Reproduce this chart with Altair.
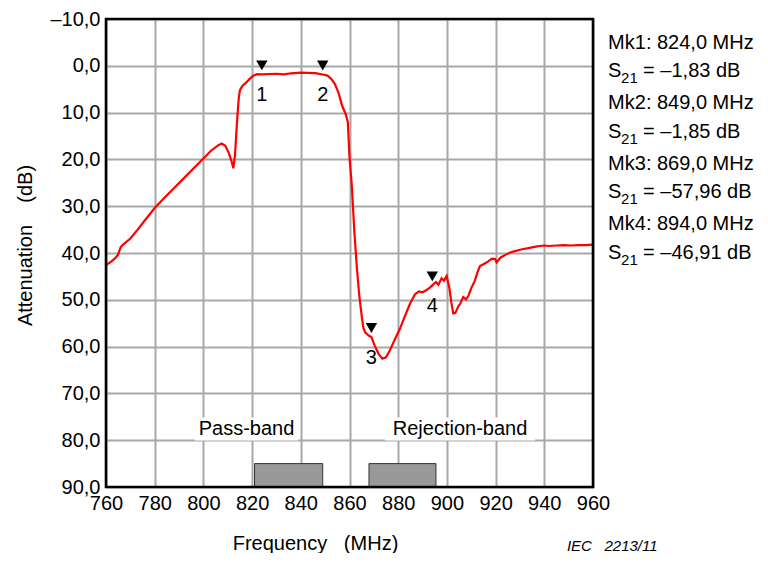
import altair as alt
import pandas as pd

# ---------------- data ----------------
freq_mhz = [760, 762, 764, 765, 766, 767, 770, 773, 776, 780, 784, 788, 792, 796,
            800, 803, 806, 807.5, 809, 810.5, 811.5, 812.3, 813, 813.5, 814, 814.5,
            815, 816, 817.5, 819, 820.5, 822, 824, 827, 830, 833, 836, 840, 843,
            846, 849, 851, 852.5, 854, 855.5, 857, 858.5, 859.3, 860, 861, 862,
            863, 864, 865, 865.7, 866.5, 868, 869, 870.5, 872, 873.5, 875, 876.6,
            878.5, 880.7, 882.5, 884.8, 886.9, 888.5, 890, 891.7, 893, 894, 895.5,
            896.5, 897.8, 898.8, 899.9, 901, 901.8, 902.6, 903.5, 904.7, 905.5,
            906.7, 907.8, 908.8, 910, 911.5, 912.5, 913.6, 915, 917, 918.5, 919.8,
            920.4, 922, 924, 926, 928, 930, 932, 934, 936, 938, 940, 942, 945, 948,
            951, 954, 957, 960]
atten_db = [42.6, 41.9, 41.0, 40.3, 38.8, 38.2, 36.9, 35.0, 33.0, 30.4, 28.2, 26.1,
            24.0, 21.9, 19.8, 18.2, 17.0, 16.6, 17.1, 18.7, 20.3, 21.9, 19.0, 14.5,
            10.5, 7.0, 5.2, 4.3, 3.6, 2.8, 2.1, 1.8, 1.83, 1.75, 1.7, 1.85, 1.6,
            1.45, 1.5, 1.55, 1.85, 2.1, 2.8, 3.9, 5.8, 8.6, 10.4, 12.0, 19.5, 26.0,
            35.5, 43.0, 49.0, 53.4, 56.0, 57.0, 57.7, 57.96, 60.0, 61.6, 62.6, 62.3,
            60.8, 58.6, 56.2, 53.8, 50.9, 48.8, 48.2, 48.4, 47.9, 47.4, 46.91, 46.2,
            46.8, 45.4, 45.9, 44.9, 47.4, 50.5, 52.9, 52.8, 51.4, 50.8, 49.4, 49.9,
            49.2, 47.5, 45.9, 44.2, 42.8, 42.4, 41.8, 41.2, 41.3, 42.0, 41.0, 40.4,
            39.9, 39.6, 39.3, 39.1, 38.9, 38.7, 38.5, 38.4, 38.5, 38.4, 38.3, 38.4,
            38.3, 38.3, 38.2]

x_ticks = [760, 780, 800, 820, 840, 860, 880, 900, 920, 940, 960]
y_ticks = [-10, 0, 10, 20, 30, 40, 50, 60, 70, 80, 90]

marker_ids = ["1", "2", "3", "4"]
marker_freq = [824.0, 849.0, 869.0, 894.0]
marker_s21 = [-1.83, -1.85, -57.96, -46.91]

band_names = ["Pass-band", "Rejection-band"]
band_start = [821.0, 868.0]
band_end = [849.0, 895.5]

# ---------------- layout / style ----------------
FONT = "Liberation Sans, Arial, Helvetica, sans-serif"
FS = 20
W, H = 487, 468

band_label_x = [817.7, 905.4]
band_label_half = [21.2, 30.8]
band_label_y = 77.6
band_label_halfh = 2.45

info_x = 966.2
info_y0 = -4.9
info_step = 12.93
info_sub = 6.05

xscale = alt.Scale(domain=[760, 960], nice=False, zero=False)
yscale = alt.Scale(domain=[-10, 90], reverse=True, nice=False, zero=False)

X = alt.X("f:Q", scale=xscale,
          axis=alt.Axis(values=x_ticks, labelPadding=6, labelFlush=False,
                        title="Frequency\u00a0\u00a0\u00a0(MHz)",
                        titleX=209, titleY=56, titleAlign="center",
                        titleBaseline="middle"))
Y = alt.Y("a:Q", scale=yscale,
          axis=alt.Axis(values=y_ticks, labelPadding=6, labelFlush=False,
                        labelExpr="replace(replace(format(datum.value, '.1f'), '.', ','), '\u2212', '\u2013')",
                        title="Attenuation\u00a0\u00a0\u00a0\u00a0(dB)",
                        titleX=-81, titleY=226, titleAngle=-90,
                        titleAlign="center", titleBaseline="middle"))


def comma(v, nd):
    return f"{v:.{nd}f}".replace(".", ",")


curve_df = pd.DataFrame({"f": freq_mhz, "a": atten_db})
mk_df = pd.DataFrame({"f": marker_freq, "a": [-v for v in marker_s21], "id": marker_ids})

bands_df = pd.DataFrame({"f": band_start, "f2": band_end, "a": [85.0, 85.0], "a2": [90.0, 90.0]})
blab_df = pd.DataFrame({
    "f": [c - h for c, h in zip(band_label_x, band_label_half)],
    "f2": [c + h for c, h in zip(band_label_x, band_label_half)],
    "a": [band_label_y - band_label_halfh] * 2,
    "a2": [band_label_y + band_label_halfh] * 2,
})
btxt_df = pd.DataFrame({"f": band_label_x, "a": [band_label_y] * 2, "t": band_names})

mk_lines = []
s_lines = []
for i, (mid, fr, s) in enumerate(zip(marker_ids, marker_freq, marker_s21)):
    y = info_y0 + info_step * i
    mk_lines.append({"f": info_x, "a": y, "t": f"Mk{mid}: {comma(fr, 1)} MHz"})
    s_lines.append({"f": info_x, "a": y + info_sub,
                    "t": f"= \u2013{comma(abs(s), 2)} dB"})
mk_txt_df = pd.DataFrame(mk_lines)
s_txt_df = pd.DataFrame(s_lines)

frame_df = pd.DataFrame({"f": [760.0], "f2": [960.0], "a": [-10.0], "a2": [90.0]})
iec_df = pd.DataFrame({"f": [949.3], "a": [102.6], "t": ["IEC\u00a0\u00a0\u00a02213/11"]})

txt = dict(font=FONT, fontSize=FS, color="black")

curve = alt.Chart(curve_df).mark_line(color="#ff0000", strokeWidth=2.2).encode(x=X, y=Y)

bands = alt.Chart(bands_df).mark_rect(fill="#999999", stroke="#333333", strokeWidth=1).encode(
    x=X, x2="f2:Q", y=Y, y2="a2:Q")
blab_bg = alt.Chart(blab_df).mark_rect(fill="white").encode(x=X, x2="f2:Q", y=Y, y2="a2:Q")
btxt = alt.Chart(btxt_df).mark_text(align="center", baseline="middle", **txt).encode(
    x=X, y=Y, text="t:N")

tri = alt.Chart(mk_df).mark_point(shape="triangle-down", filled=True, color="black",
                                  size=130, opacity=1).encode(x=X, y=Y, yOffset=alt.value(-9))
mk_num = alt.Chart(mk_df).mark_text(align="center", baseline="middle", dy=21, **txt).encode(
    x=X, y=Y, text="id:N")

mk_txt = alt.Chart(mk_txt_df).mark_text(align="left", baseline="middle", **txt).encode(
    x=X, y=Y, text="t:N")
s_main = alt.Chart(s_txt_df).mark_text(align="left", baseline="middle", **txt).encode(
    x=X, y=Y, text=alt.value("S"))
s_sub = alt.Chart(s_txt_df).mark_text(align="left", baseline="middle", dx=13, dy=7,
                                      font=FONT, fontSize=15, color="black").encode(
    x=X, y=Y, text=alt.value("21"))
s_val = alt.Chart(s_txt_df).mark_text(align="left", baseline="middle", dx=35, **txt).encode(
    x=X, y=Y, text="t:N")

frame = alt.Chart(frame_df).mark_rect(fill=None, stroke="black", strokeWidth=2.6).encode(
    x=X, x2="f2:Q", y=Y, y2="a2:Q")

iec = alt.Chart(iec_df).mark_text(align="left", baseline="middle", font=FONT, fontSize=15,
                                  fontStyle="italic", color="black").encode(
    x=X, y=Y, text="t:N")

chart = alt.layer(
    bands, blab_bg, btxt, curve, tri, mk_num, mk_txt, s_main, s_sub, s_val, frame, iec
).properties(
    width=W, height=H,
    autosize=alt.AutoSizeParams(type="none"),
    padding={"left": 98, "top": 11, "right": 167, "bottom": 66},
    background="white",
).configure_view(stroke=None).configure_axis(
    grid=True, gridColor="#a8a8a8", gridWidth=2, domain=False, ticks=False,
    labelFont=FONT, labelFontSize=FS, labelColor="black",
    titleFont=FONT, titleFontSize=FS, titleFontWeight="normal", titleColor="black",
)

chart.save("out.html", embed_options={"renderer": "svg", "actions": False})
